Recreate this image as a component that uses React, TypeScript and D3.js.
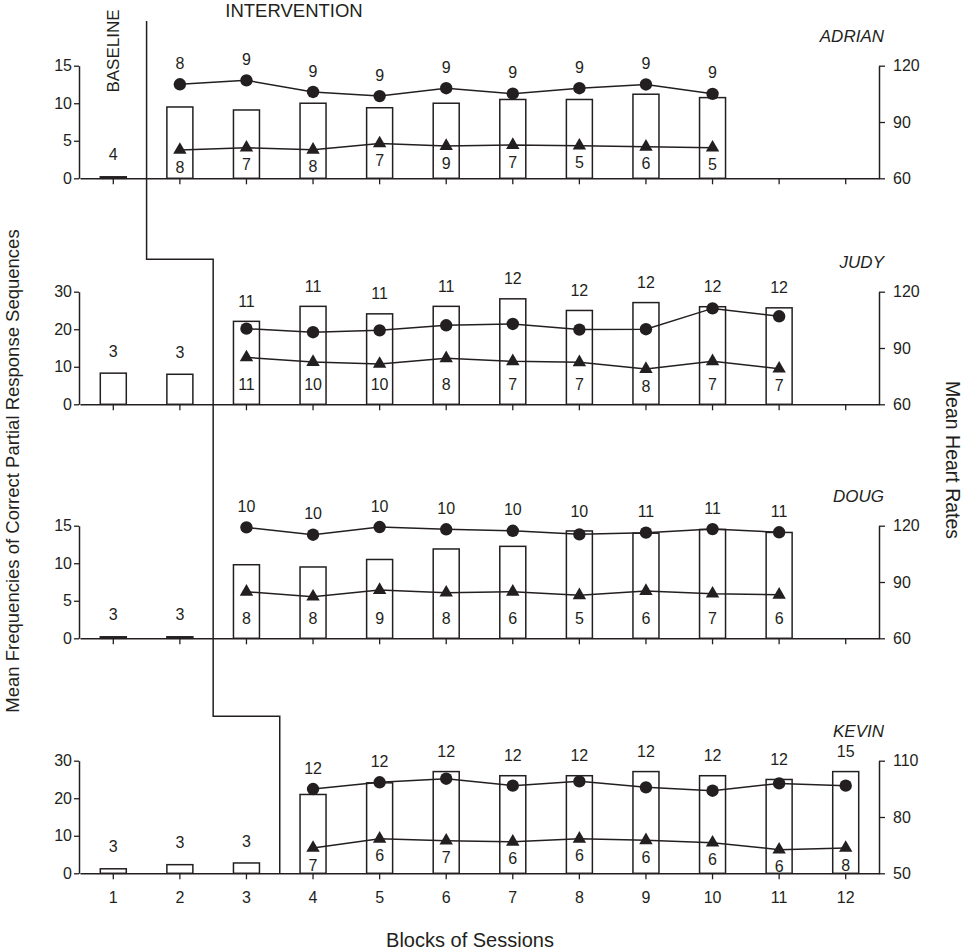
import * as d3 from "d3";
import { useRef, useEffect } from "react";

const sessions = [1, 2, 3, 4, 5, 6, 7, 8, 9, 10, 11, 12];

// Adrian
const adrianBars = [0.2, 9.5, 9.1, 10.0, 9.4, 10.0, 10.5, 10.5, 11.2, 10.75, null, null];
const adrianHigh = [null, 110.1, 112.2, 106, 103.8, 108, 105.1, 108, 110, 105, null, null];
const adrianLow = [null, 75.1, 76.3, 75.2, 78.6, 77.2, 77.7, 77.4, 76.8, 76.3, null, null];
const adrianAbove = [4, 8, 9, 9, 9, 9, 9, 9, 9, 9, null, null];
const adrianBelow = [null, 8, 7, 8, 7, 9, 7, 5, 6, 5, null, null];

// Judy
const judyBars = [8.3, 8.0, 22.1, 26.1, 24.1, 26.1, 28.1, 25.0, 27.1, 26.0, 25.7, null];
const judyHigh = [null, null, 100.3, 98.4, 99.4, 102.1, 102.8, 99.8, 100, 111.1, 106.9, null];
const judyLow = [null, null, 85, 82.5, 81.5, 84.5, 82.9, 82.4, 78.8, 82.9, 79, null];
const judyAbove = [3, 3, 11, 11, 11, 11, 12, 12, 12, 12, 12, null];
const judyBelow = [null, null, 11, 10, 10, 8, 7, 7, 8, 7, 7, null];

// Doug
const dougBars = [0.2, 0.2, 9.8, 9.5, 10.5, 11.9, 12.25, 14.3, 14.0, 14.5, 14.1, null];
const dougHigh = [null, null, 119.1, 115.2, 119.3, 118.1, 117.3, 115.4, 116.3, 118.2, 116.5, null];
const dougLow = [null, null, 84.8, 82.2, 85.7, 84.3, 84.8, 82.9, 85.2, 83.8, 83.2, null];
const dougAbove = [3, 3, 10, 10, 10, 10, 10, 10, 11, 11, 11, null];
const dougBelow = [null, null, 8, 8, 9, 8, 6, 5, 6, 7, 6, null];

// Kevin
const kevinBars = [1.2, 2.3, 2.75, 21, 24.1, 27.1, 26, 26, 27.1, 26, 25, 27.1];
const kevinHigh = [null, null, null, 94.9, 98.5, 100.4, 96.7, 99, 95.8, 94, 97.9, 96.7];
const kevinLow = [null, null, null, 63.5, 68.4, 67.4, 66.8, 68.4, 67.6, 66.3, 62.6, 63.5];
const kevinAbove = [3, 3, 3, 12, 12, 12, 12, 12, 12, 12, 12, 15];
const kevinBelow = [null, null, null, 7, 6, 7, 6, 6, 6, 6, 6, 8];

const names = ["ADRIAN", "JUDY", "DOUG", "KEVIN"];
const baselineCounts = [1, 2, 2, 3];
const leftTicks = [[0, 5, 10, 15], [0, 10, 20, 30], [0, 5, 10, 15], [0, 10, 20, 30]];
const rightTicks = [[60, 90, 120], [60, 90, 120], [60, 90, 120], [50, 80, 110]];

const panels = [
    { name: names[0], bars: adrianBars, high: adrianHigh, low: adrianLow, above: adrianAbove, below: adrianBelow },
    { name: names[1], bars: judyBars, high: judyHigh, low: judyLow, above: judyAbove, below: judyBelow },
    { name: names[2], bars: dougBars, high: dougHigh, low: dougLow, above: dougAbove, below: dougBelow },
    { name: names[3], bars: kevinBars, high: kevinHigh, low: kevinLow, above: kevinAbove, below: kevinBelow },
];

const width = 965;
const height = 951;
const marginLeft = 79;
const marginRight = 879;
const panelBase = [178.3, 404.3, 638.3, 873.3];
const panelHeight = 112.6;
const barWidth = 26;
const font = "'Liberation Sans', Arial, Helvetica, sans-serif";
const ink = "#231f20";

const x = d3.scaleBand<number>().domain(sessions).range([marginLeft + 1, marginRight]);
const cx = (s: number) => (x(s) ?? 0) + x.bandwidth() / 2;

function styleAxis(g: d3.Selection<SVGGElement, unknown, null, undefined>) {
    g.selectAll("path").attr("stroke", ink).attr("stroke-width", 1.5);
    g.selectAll("line").attr("stroke", ink).attr("stroke-width", 1.3);
    g.selectAll("text").attr("fill", ink).style("font-family", font).style("font-size", "16px");
}

function Panel({ index }: { index: number }) {
    const p = panels[index];
    const base = panelBase[index];
    const top = base - panelHeight;
    const lt = leftTicks[index];
    const rt = rightTicks[index];
    const yL = d3.scaleLinear([0, lt[lt.length - 1]], [base, top]);
    const yR = d3.scaleLinear([rt[0], rt[rt.length - 1]], [base, top]);
    const last = index === panels.length - 1;
    const gx = useRef<SVGGElement>(null);
    const gl = useRef<SVGGElement>(null);
    const gr = useRef<SVGGElement>(null);

    useEffect(() => {
        if (gx.current) {
            const g = d3.select(gx.current);
            g.call(d3.axisBottom(x).tickSize(6).tickSizeOuter(0).tickPadding(12)
                .tickFormat(d => (last ? String(d) : "")));
            styleAxis(g);
        }
        if (gl.current) {
            const g = d3.select(gl.current);
            g.call(d3.axisLeft(yL).tickValues(lt).tickSize(5).tickSizeOuter(0).tickPadding(2));
            styleAxis(g);
        }
        if (gr.current) {
            const g = d3.select(gr.current);
            g.call(d3.axisRight(yR).tickValues(rt).tickSize(6).tickSizeOuter(0).tickPadding(8));
            styleAxis(g);
        }
    }, [gx, gl, gr]);

    const hr = (v: number | null) => v != null;
    const lineH = d3.line<number | null>().defined(hr).x((_, i) => cx(sessions[i])).y(d => yR(d as number));
    const nb = baselineCounts[index];

    return (
        <g>
            {p.bars.map((v, i) => v == null ? null : (
                <rect key={"b" + i} x={cx(sessions[i]) - barWidth / 2} y={yL(v)} width={barWidth}
                    height={base - yL(v)} fill="white" stroke={ink} strokeWidth={1.5} />
            ))}
            <path d={lineH(p.high) ?? ""} fill="none" stroke={ink} strokeWidth={1.5} />
            <path d={lineH(p.low) ?? ""} fill="none" stroke={ink} strokeWidth={1.5} />
            {p.high.map((v, i) => v == null ? null : (
                <circle key={"c" + i} cx={cx(sessions[i])} cy={yR(v)} r={6.2} fill={ink} />
            ))}
            {p.low.map((v, i) => v == null ? null : (
                <path key={"t" + i} transform={`translate(${cx(sessions[i])},${yR(v)})`}
                    d={d3.symbol(d3.symbolTriangle, 78)() ?? ""} fill={ink} />
            ))}
            <g fontFamily={font} fontSize={16} fill={ink} textAnchor="middle">
                {p.above.map((v, i) => {
                    if (v == null) return null;
                    const bar = p.bars[i];
                    const barTop = bar == null ? base : yL(bar);
                    let yy;
                    if (i < nb) yy = barTop - 22;
                    else {
                        const h = p.high[i];
                        yy = Math.min(barTop - 20, h == null ? base : yR(h) - 21);
                    }
                    return <text key={"a" + i} x={cx(sessions[i])} y={yy} dy="0.35em">{v}</text>;
                })}
                {p.below.map((v, i) => {
                    if (v == null) return null;
                    const l = p.low[i];
                    const yy = Math.max(l == null ? base : yR(l) + 17, base - 20);
                    return <text key={"w" + i} x={cx(sessions[i])} y={yy} dy="0.35em">{v}</text>;
                })}
            </g>
            <g ref={gx} transform={`translate(0,${base})`} />
            <g ref={gl} transform={`translate(${marginLeft},0)`} />
            <g ref={gr} transform={`translate(${marginRight},0)`} />
            <text x={884} y={top - 24} textAnchor="end" fontFamily={font} fontSize={17}
                fontStyle="italic" fill={ink}>{p.name}</text>
        </g>
    );
}

export default function App() {
    // phase change line between baseline and intervention
    const mid = (n: number) => (cx(sessions[n - 1]) + cx(sessions[n])) / 2;
    const phaseTop = 21;
    const steps = [
        [mid(baselineCounts[0]), phaseTop],
        [mid(baselineCounts[0]), panelBase[0] + 81],
        [mid(baselineCounts[1]), panelBase[0] + 81],
        [mid(baselineCounts[2]), panelBase[2] + 78],
        [mid(baselineCounts[3]), panelBase[2] + 78],
        [mid(baselineCounts[3]), panelBase[3]],
    ];
    const phasePts: [number, number][] = [];
    steps.forEach((s, i) => {
        if (i > 0 && s[0] !== steps[i - 1][0] && s[1] !== steps[i - 1][1]) {
            phasePts.push([steps[i - 1][0], s[1]]);
        }
        phasePts.push([s[0], s[1]]);
    });

    return (
        <svg width={width} height={height} style={{ position: "absolute", left: 0, top: 0, background: "white" }}>
            {panels.map((_, i) => <Panel key={i} index={i} />)}
            <path d={d3.line()(phasePts) ?? ""} fill="none" stroke={ink} strokeWidth={1.5} />
            <text x={294} y={17} textAnchor="middle" fontFamily={font} fontSize={18.5} fill={ink}>INTERVENTION</text>
            <text transform="translate(119,51) rotate(-90)" textAnchor="middle" fontFamily={font} fontSize={17}
                fill={ink}>BASELINE</text>
            <text transform="translate(19,471) rotate(-90)" textAnchor="middle" fontFamily={font} fontSize={18.5}
                fill={ink}>Mean Frequencies of Correct Partial Response Sequences</text>
            <text transform="translate(946,460) rotate(90)" textAnchor="middle" fontFamily={font} fontSize={19.5}
                fill={ink}>Mean Heart Rates</text>
            <text x={470} y={947} textAnchor="middle" fontFamily={font} fontSize={20} fill={ink}>Blocks of Sessions</text>
        </svg>
    );
}
